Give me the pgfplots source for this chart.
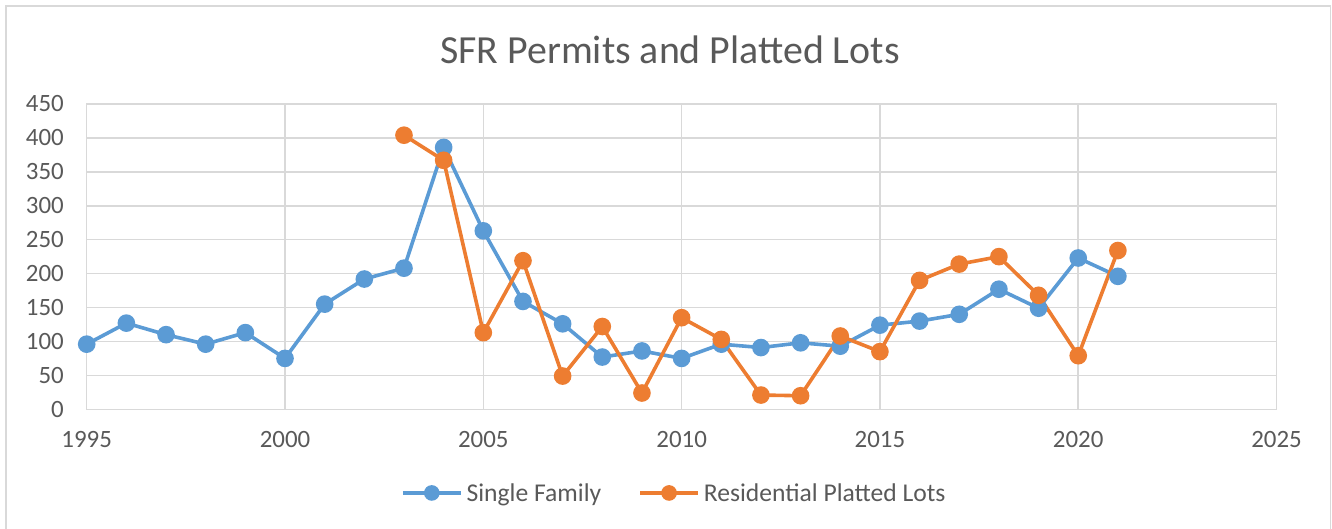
\documentclass[border=0pt]{standalone}
\usepackage{pgfplots}
\pgfplotsset{compat=1.18}
\usepackage{fontspec}
\setmainfont{Carlito}
\definecolor{sfblue}{HTML}{5B9BD5}
\definecolor{sforange}{HTML}{ED7D31}
\definecolor{txtgray}{HTML}{595959}
\definecolor{gridgray}{HTML}{D9D9D9}
\begin{document}
\begin{tikzpicture}[x=1bp,y=1bp]
\path[use as bounding box] (0,0) rectangle (1332,529);
\begin{scope}
\clip (0,0) rectangle (1332,529);
\draw[gridgray,line width=1.5bp] (6,-5) rectangle (1330.5,523);
\end{scope}
\node[txtgray,font=\fontsize{40}{46}\selectfont] at (670,479) {SFR Permits and Platted Lots};
\begin{axis}[
  at={(86.7bp,119.7bp)}, anchor=south west,
  scale only axis, width=1189.8bp, height=305.3bp,
  xmin=1995, xmax=2025, ymin=0, ymax=450,
  xtick={1995,2000,...,2025}, ytick={0,50,...,450},
  xticklabel style={/pgf/number format/1000 sep={}, inner sep=0pt, anchor=north, yshift=-22bp},
  yticklabel style={inner sep=0pt, anchor=east, xshift=-22.7bp},
  /pgf/number format/assume math mode=true,
  ticklabel style={font=\fontsize{25}{29}\selectfont, text=txtgray},
  major tick length=0pt,
  grid=major,
  major grid style={gridgray, line width=1.5bp},
  axis line style={gridgray, line width=1.5bp},
  legend style={at={(0.4938,-0.274)}, anchor=center, draw=none, fill=none,
    font=\fontsize{25.7}{30}\selectfont, text=txtgray, legend columns=2,
    /tikz/every even column/.append style={column sep=35bp},
    /tikz/every odd column/.append style={column sep=2bp},
    nodes={inner sep=2bp}},
  legend image code/.code={
    \draw[mark repeat=2, mark phase=2, #1, mark size=6bp] plot coordinates {(0bp,0bp) (29bp,0bp) (58bp,0bp)};
  },
]
\addplot[sfblue, line width=3.6bp, mark=*, mark size=7bp, mark options={fill=sfblue, draw=sfblue}] coordinates {
(1995,96) (1996,127) (1997,110) (1998,96) (1999,113) (2000,75)
(2001,155) (2002,192) (2003,208) (2004,386) (2005,263) (2006,159)
(2007,126) (2008,77) (2009,86) (2010,75) (2011,96) (2012,91)
(2013,98) (2014,93) (2015,124) (2016,130) (2017,140) (2018,177)
(2019,149) (2020,223) (2021,196)
};
\addlegendentry{Single Family}
\addplot[sforange, line width=3.6bp, mark=*, mark size=7bp, mark options={fill=sforange, draw=sforange}] coordinates {
(2003,404) (2004,367) (2005,113) (2006,219) (2007,49) (2008,122)
(2009,24) (2010,135) (2011,103) (2012,21) (2013,20) (2014,108)
(2015,85) (2016,190) (2017,214) (2018,225) (2019,168) (2020,79)
(2021,234)
};
\addlegendentry{Residential Platted Lots}
\end{axis}
\end{tikzpicture}
\end{document}
